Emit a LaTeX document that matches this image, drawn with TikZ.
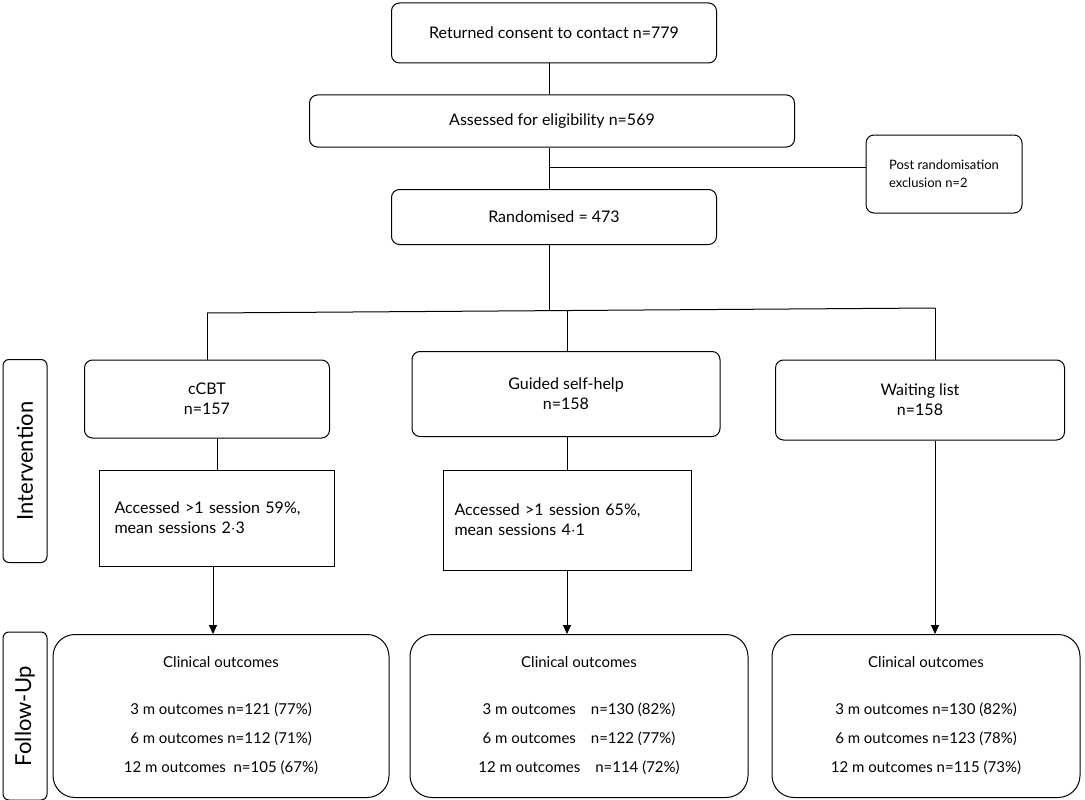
\documentclass[tikz,border=0pt]{standalone}
\usepackage{fontspec}
\setmainfont{Lato}
\usetikzlibrary{arrows.meta}
\usetikzlibrary{positioning}
\tikzset{
  every node/.style={font=\fontsize{16}{20}\selectfont},
  box/.style={draw, line width=1pt, rounded corners=8pt, align=center},
  plain/.style={draw, line width=1pt, align=left},
  side/.style={draw, line width=1pt, rounded corners=6pt, minimum height=44pt, rotate=90, font=\fontsize{22}{24}\selectfont},
  link/.style={draw, line width=1pt},
  arrow/.style={draw, line width=1pt, -{Triangle[length=9pt, width=8pt]}}
}
\begin{document}
\begin{tikzpicture}[x=1pt, y=-1pt]
  \useasboundingbox (0,0) rectangle (1085,800);

  % Top of the chart
  \node[box, minimum width=325pt, minimum height=60pt] (consent) at (554,33) {Returned consent to contact n=779};
  \node[box, minimum width=485pt, minimum height=52pt] (assessed) at (552,121) {Assessed for eligibility n=569};
  \node[box, minimum width=156pt, minimum height=78pt, align=left, font=\fontsize{13}{18}\selectfont] (excl) at (944,174) {Post randomisation\\exclusion n=2};
  \node[box, minimum width=325pt, minimum height=55pt] (rand) at (554,217) {Randomised = 473};

  \coordinate (split) at (549,167);
  \coordinate (fork) at (549,310);
  \coordinate (forkL) at (207,313);
  \coordinate (forkR) at (935,308);

  % Side labels
  \node[side, minimum width=203pt] (interv) at (25,461) {Intervention};
  \node[side, minimum width=168pt] (follow) at (25,716) {Follow-Up};

  % Arms
  \node[box, minimum width=245pt, minimum height=78pt] (cbt) at (207,399) {cCBT\\n=157};
  \node[box, minimum width=308pt, minimum height=85pt] (gsh) at (566,394) {Guided self-help\\n=158};
  \node[box, minimum width=289pt, minimum height=80pt] (wait) at (920,400) {Waiting list\\n=158};

  \node[plain, minimum width=235pt, minimum height=96pt, text width=205pt] (acc1) at (217,518) {Accessed >1 session 59\%,\\mean sessions 2$\cdot$3};
  \node[plain, minimum width=248pt, minimum height=100pt, text width=225pt] (acc2) at (567,520) {Accessed >1 session 65\%,\\mean sessions 4$\cdot$1};

  % Outcomes
  \node[box, rounded corners=22pt, minimum width=336pt, minimum height=163pt, align=center, font=\fontsize{15}{29}\selectfont] (out1) at (221,716)
    {Clinical outcomes\\[18pt]3 m outcomes n=121 (77\%)\\6 m outcomes n=112 (71\%)\\12 m outcomes\ \ n=105 (67\%)};
  \node[box, rounded corners=22pt, minimum width=338pt, minimum height=163pt, align=center, font=\fontsize{15}{29}\selectfont] (out2) at (579,716)
    {Clinical outcomes\\[18pt]3 m outcomes\quad n=130 (82\%)\\6 m outcomes\quad n=122 (77\%)\\12 m outcomes\quad n=114 (72\%)};
  \node[box, rounded corners=22pt, minimum width=308pt, minimum height=163pt, align=center, font=\fontsize{15}{29}\selectfont] (out3) at (926,716)
    {Clinical outcomes\\[18pt]3 m outcomes n=130 (82\%)\\6 m outcomes n=123 (78\%)\\12 m outcomes n=115 (73\%)};

  % Connectors
  \draw[link] (consent.south -| split) -- (assessed.north -| split);
  \draw[link] (assessed.south -| split) -- (rand.north -| split);
  \draw[link] (split) -- (excl.west |- split);
  \draw[link] (rand.south -| fork) -- (fork);
  \draw[link] (forkL) -- (forkR);
  \draw[link] (forkL) -- (cbt.north -| forkL);
  \draw[link] (567,311) -- (gsh.north -| acc2);
  \draw[link] (forkR) -- (wait.north -| forkR);
  \draw[link] (cbt.south -| acc1) -- (acc1.north);
  \draw[link] (gsh.south -| acc2) -- (acc2.north);
  \draw[arrow] (acc1.south -| 213,0) -- (out1.north -| 213,0);
  \draw[arrow] (acc2.south) -- (out2.north -| acc2);
  \draw[arrow] (wait.south -| forkR) -- (out3.north -| forkR);
\end{tikzpicture}
\end{document}
